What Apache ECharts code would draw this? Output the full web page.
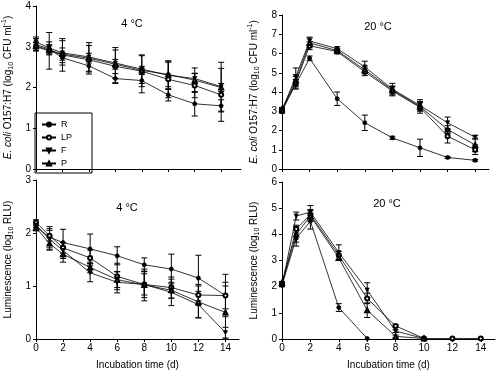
<!DOCTYPE html>
<html>
<head>
<meta charset="utf-8">
<script src="https://cdn.jsdelivr.net/npm/echarts@6/dist/echarts.min.js"></script>
<style>
html, body { margin: 0; padding: 0; background: #fff; }
#main { width: 498px; height: 376px; }
</style>
</head>
<body>
<div id="main"></div>
<script>
// sampling days and tick labels
var days = [0, 1, 2, 4, 6, 8, 10, 12, 14];
var xTicks = [0, 2, 4, 6, 8, 10, 12, 14];
var names = ['R', 'LP', 'F', 'P'];

// E. coli counts, 4 °C
var ec4R = [3.05, 2.95, 2.73, 2.53, 2.22, 2.17, 1.82, 1.6, 1.55];
var ec4LP = [3.0, 2.9, 2.8, 2.68, 2.52, 2.4, 2.2, 2.05, 1.82];
var ec4F = [3.12, 2.97, 2.85, 2.75, 2.6, 2.45, 2.3, 2.22, 2.02];
var ec4P = [3.02, 2.92, 2.82, 2.72, 2.57, 2.42, 2.32, 2.18, 2.0];
var ec4RErr = [0.15, 0.1, 0.12, 0.15, 0.12, 0.3, 0.15, 0.3, 0.15];
var ec4LPErr = [0.1, 0.45, 0.4, 0.35, 0.4, 0.38, 0.45, 0.3, 0.65];
var ec4FErr = [0.12, 0.15, 0.3, 0.35, 0.38, 0.35, 0.35, 0.12, 0.6];
var ec4PErr = [0.1, 0.12, 0.15, 0.12, 0.12, 0.1, 0.3, 0.3, 0.1];

// E. coli counts, 20 °C
var ec20R = [3.05, 4.4, 5.75, 3.65, 2.4, 1.62, 1.1, 0.6, 0.45];
var ec20LP = [3.0, 4.5, 6.4, 6.1, 5.05, 4.05, 3.2, 1.7, 1.0];
var ec20F = [3.05, 4.8, 6.65, 6.25, 5.3, 4.15, 3.3, 2.4, 1.65];
var ec20P = [3.1, 4.6, 6.55, 6.15, 5.15, 4.1, 3.25, 2.05, 1.25];
var ec20RErr = [0.1, 0.25, 0.12, 0.35, 0.4, 0.08, 0.45, 0.05, 0.05];
var ec20LPErr = [0.1, 0.3, 0.2, 0.12, 0.2, 0.25, 0.3, 0.35, 0.25];
var ec20FErr = [0.1, 0.45, 0.2, 0.1, 0.3, 0.3, 0.3, 0.3, 0.1];
var ec20PErr = [0.1, 0.3, 0.25, 0.1, 0.2, 0.2, 0.2, 0.2, 0.35];

// luminescence, 4 °C
var lum4R = [2.12, 1.92, 1.82, 1.7, 1.57, 1.4, 1.32, 1.15, 0.82];
var lum4LP = [2.2, 1.95, 1.72, 1.53, 1.18, 1.03, 0.97, 0.83, 0.82];
var lum4F = [2.15, 1.88, 1.67, 1.25, 1.07, 1.03, 0.88, 0.65, 0.12];
var lum4P = [2.1, 1.8, 1.6, 1.35, 1.12, 1.02, 0.92, 0.7, 0.5];
var lum4RErr = [0.08, 0.2, 0.25, 0.28, 0.17, 0.13, 0.28, 0.43, 0.4];
var lum4LPErr = [0.05, 0.1, 0.1, 0.15, 0.25, 0.25, 0.2, 0.2, 0.25];
var lum4FErr = [0.05, 0.2, 0.15, 0.17, 0.2, 0.2, 0.25, 0.25, 0.1];
var lum4PErr = [0.05, 0.12, 0.15, 0.1, 0.15, 0.3, 0.15, 0.3, 0.5];

// luminescence, 20 °C
var lum20R = [2.05, 3.85, 4.5, 1.2, 0.02];
var lum20LP = [2.1, 4.2, 4.75, 3.2, 1.55, 0.5, 0.02, 0.02, 0.02];
var lum20F = [2.05, 4.7, 4.85, 3.3, 1.87, 0.3, 0.02];
var lum20P = [2.15, 4.0, 4.7, 3.1, 1.1, 0.1, 0.02];
var lum20RErr = [0.05, 0.3, 0.3, 0.15, 0];
var lum20LPErr = [0.05, 0.15, 0.2, 0.15, 0.2, 0.05, 0, 0, 0];
var lum20FErr = [0.05, 0.15, 0.25, 0.3, 0.28, 0.05, 0];
var lum20PErr = [0.05, 0.3, 0.2, 0.1, 0.28, 0.05, 0];

var symbols = [
  { symbol: 'circle', rotate: 0 },
  { symbol: 'emptyCircle', rotate: 0 },
  { symbol: 'triangle', rotate: 180 },
  { symbol: 'emptyTriangle', rotate: 0 }
];

var panels = [
  { vals: [ec4R, ec4LP, ec4F, ec4P], errs: [ec4RErr, ec4LPErr, ec4FErr, ec4PErr] },
  { vals: [ec20R, ec20LP, ec20F, ec20P], errs: [ec20RErr, ec20LPErr, ec20FErr, ec20PErr] },
  { vals: [lum4R, lum4LP, lum4F, lum4P], errs: [lum4RErr, lum4LPErr, lum4FErr, lum4PErr] },
  { vals: [lum20R, lum20LP, lum20F, lum20P], errs: [lum20RErr, lum20LPErr, lum20FErr, lum20PErr] }
];

var font = 'Liberation Sans, Arial, sans-serif';

function errorItem(params, api) {
  var x = api.value(0);
  var lo = api.coord([x, api.value(1)]);
  var hi = api.coord([x, api.value(2)]);
  var w = 3;
  var st = { stroke: '#000', lineWidth: 1 };
  return {
    type: 'group',
    children: [
      { type: 'line', shape: { x1: lo[0], y1: lo[1], x2: hi[0], y2: hi[1] }, style: st },
      { type: 'line', shape: { x1: lo[0] - w, y1: lo[1], x2: lo[0] + w, y2: lo[1] }, style: st },
      { type: 'line', shape: { x1: hi[0] - w, y1: hi[1], x2: hi[0] + w, y2: hi[1] }, style: st }
    ]
  };
}

var series = [];
panels.forEach(function (p, k) {
  p.vals.forEach(function (vals, j) {
    series.push({
      name: names[j],
      type: 'line',
      xAxisIndex: k,
      yAxisIndex: k,
      data: vals.map(function (v, i) { return [days[i], v]; }),
      symbol: symbols[j].symbol,
      symbolRotate: symbols[j].rotate,
      symbolSize: 4,
      showAllSymbol: true,
      z: 3,
      lineStyle: { color: '#000', width: 0.8 },
      itemStyle: { color: '#000', borderColor: '#000', borderWidth: 0.8 },
      emphasis: { disabled: true },
      animation: false
    });
    var bars = [];
    vals.forEach(function (v, i) {
      var e = p.errs[j][i];
      if (e > 0) bars.push([days[i], v - e, v + e]);
    });
    series.push({
      name: 'err',
      type: 'custom',
      xAxisIndex: k,
      yAxisIndex: k,
      data: bars,
      encode: { x: 0, y: [1, 2] },
      renderItem: errorItem,
      z: 2,
      silent: true,
      animation: false
    });
  });
});

var grids = [
  { left: 32, top: 6, width: 209, height: 163 },
  { left: 282, top: 15, width: 207, height: 154 },
  { left: 31, top: 180, width: 208, height: 159 },
  { left: 282, top: 182, width: 213, height: 157 }
];
var xMax = [15.5, 15, 15, 15];
var yMax = [4, 8, 3, 6];

var ecoliName = '{i|E. coli} O157:H7 (log{sub|10} CFU ml{sup|-1})';
var lumName = 'Luminescence (log{sub|10} RLU)';
var nameRich = {
  i: { fontStyle: 'italic', fontSize: 10, fontFamily: font, color: '#000', lineHeight: 14 },
  sub: { fontSize: 7, fontFamily: font, color: '#000', verticalAlign: 'bottom', lineHeight: 14 },
  sup: { fontSize: 7, fontFamily: font, color: '#000', verticalAlign: 'top', lineHeight: 14 }
};

var axisLine = { show: true, onZero: false, lineStyle: { color: '#000', width: 1 } };

var xAxes = grids.map(function (g, k) {
  var bottomRow = k >= 2;
  return {
    type: 'value',
    gridIndex: k,
    min: 0,
    max: xMax[k],
    name: bottomRow ? 'Incubation time (d)' : '',
    nameLocation: 'middle',
    nameGap: 21,
    nameTextStyle: { fontFamily: font, fontSize: 10, color: '#000' },
    axisLine: axisLine,
    axisTick: { show: true, length: 3, customValues: xTicks, lineStyle: { color: '#000' } },
    axisLabel: { show: bottomRow, customValues: xTicks, fontFamily: font, fontSize: 10, color: '#000', margin: 4 },
    splitLine: { show: false }
  };
});

var yAxes = grids.map(function (g, k) {
  return {
    type: 'value',
    gridIndex: k,
    min: 0,
    max: yMax[k],
    interval: 1,
    name: k < 2 ? ecoliName : lumName,
    nameLocation: 'middle',
    nameRotate: 90,
    nameGap: 21,
    nameTextStyle: { fontFamily: font, fontSize: 10, color: '#000', lineHeight: 14, rich: nameRich },
    axisLine: axisLine,
    axisTick: { show: true, length: 3, lineStyle: { color: '#000' } },
    axisLabel: { fontFamily: font, fontSize: 10, color: '#000', margin: 5 },
    splitLine: { show: false }
  };
});

var titles = [
  { text: '4 °C', x: 132, y: 24 },
  { text: '20 °C', x: 378, y: 27 },
  { text: '4 °C', x: 127, y: 208 },
  { text: '20 °C', x: 387, y: 204 }
];

var chart = echarts.init(document.getElementById('main'), null, { renderer: 'canvas' });
chart.setOption({
  backgroundColor: '#fff',
  animation: false,
  grid: grids,
  xAxis: xAxes,
  yAxis: yAxes,
  legend: {
    data: names,
    orient: 'vertical',
    left: 35,
    top: 113,
    padding: [7, 20, 5, 6],
    itemWidth: 14,
    itemHeight: 5,
    itemGap: 4,
    borderColor: '#000',
    borderWidth: 1,
    selectedMode: false,
    textStyle: { fontFamily: font, fontSize: 9, color: '#000', padding: [0, 0, 0, 0] }
  },
  graphic: titles.map(function (t) {
    return {
      type: 'text',
      x: t.x,
      y: t.y,
      style: { text: t.text, fontFamily: font, fontSize: 11, fill: '#000', textAlign: 'center', textVerticalAlign: 'middle' }
    };
  }),
  series: series
});
</script>
</body>
</html>
